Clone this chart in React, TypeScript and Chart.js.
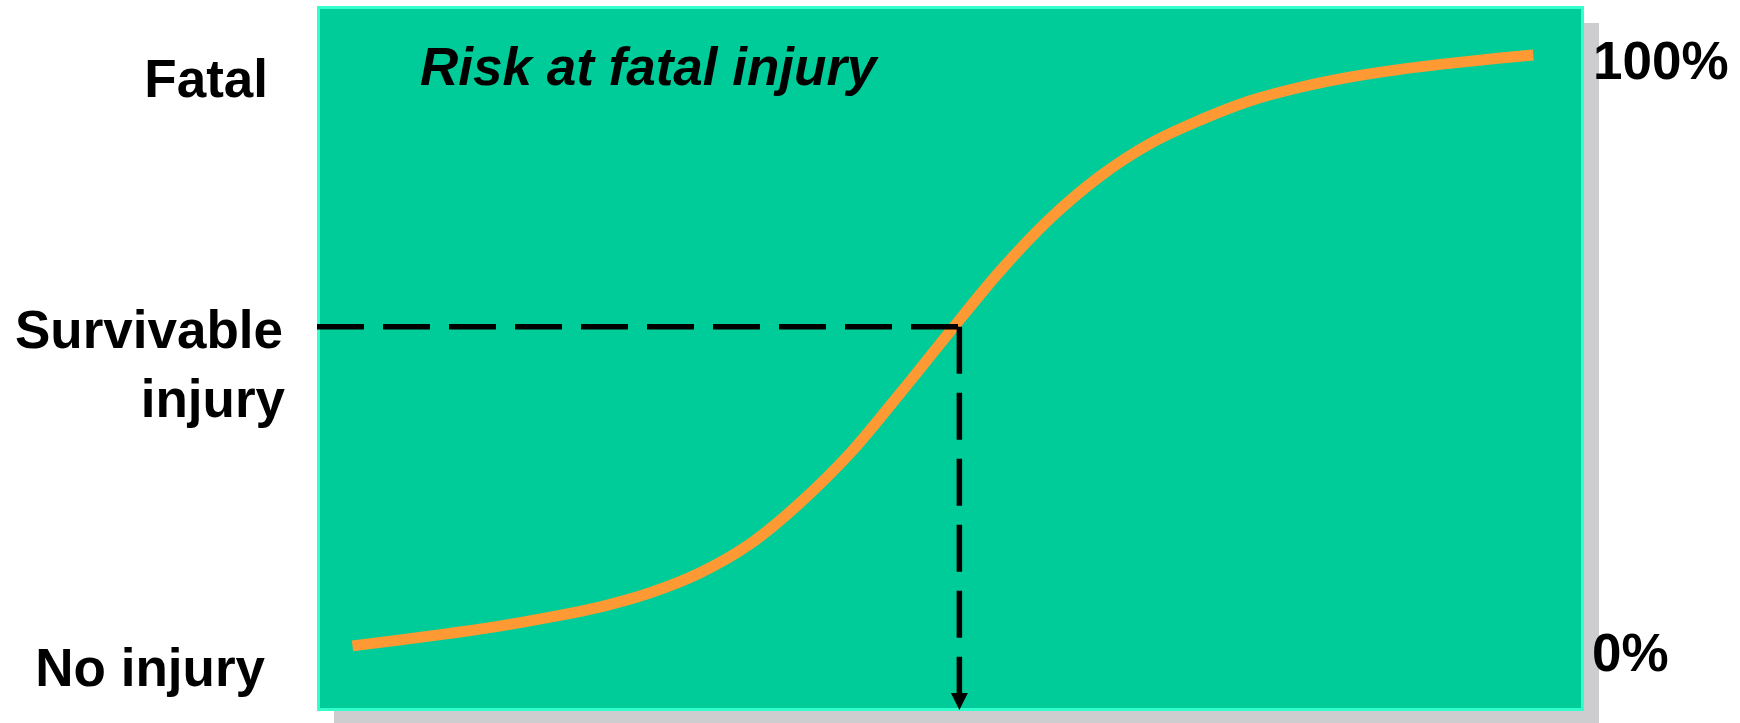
import React, { useEffect, useRef } from 'react';
import { Chart, registerables } from 'chart.js';

Chart.register(...registerables);

// Curve: impact severity (x, 0-100) vs risk of fatal injury (y, %)
const curveX = [2.8, 6.6, 10.5, 14.4, 18.4, 22.3, 26.3, 30.2, 34.2, 38.1, 42.1, 46.0, 50.0, 53.9, 57.9, 61.8, 65.7, 69.7, 73.6, 77.6, 81.5, 85.5, 89.4, 93.4, 96.0];
const curveY = [0.9, 1.9, 3.0, 4.2, 5.7, 7.4, 9.8, 13.1, 18.0, 24.8, 33.2, 43.1, 53.6, 63.6, 72.5, 79.5, 84.9, 88.9, 92.1, 94.4, 96.1, 97.4, 98.4, 99.3, 99.8];

// Survivability threshold marker
const thresholdX = 50.7;
const thresholdY = 54.3;

const leftLabels = ['Fatal', 'Survivable', 'injury', 'No injury'];
const rightLabels = ['100%', '0%'];
const title = 'Risk at fatal injury';

const FONT = '"Liberation Sans", Arial, Helvetica, sans-serif';

const decor = {
  id: 'decor',
  beforeDatasetsDraw(chart: any) {
    const { ctx, chartArea: a } = chart;
    const w = a.right - a.left;
    const h = a.bottom - a.top;
    ctx.save();
    ctx.fillStyle = '#CDCDCF';
    ctx.fillRect(a.left + 17, a.top + 17, w - 2, chart.height - a.top - 17);
    ctx.fillStyle = '#00CC99';
    ctx.fillRect(a.left, a.top, w, h);
    ctx.strokeStyle = '#33FFCC';
    ctx.lineWidth = 3;
    ctx.strokeRect(a.left + 1.5, a.top + 1.5, w - 3, h - 3);
    ctx.restore();
  },
  afterDatasetsDraw(chart: any) {
    const { ctx, chartArea: a, scales } = chart;
    const x = scales.x.getPixelForValue(thresholdX);
    const tip = a.bottom - 1;
    ctx.save();
    ctx.fillStyle = '#000000';
    ctx.beginPath();
    ctx.moveTo(x - 8.5, tip - 17);
    ctx.lineTo(x + 8.5, tip - 17);
    ctx.lineTo(x, tip);
    ctx.closePath();
    ctx.fill();
    ctx.restore();
  },
  afterDraw(chart: any) {
    const { ctx, chartArea: a } = chart;
    ctx.save();
    ctx.fillStyle = '#000000';
    ctx.textBaseline = 'alphabetic';
    ctx.font = `bold 53px ${FONT}`;
    ctx.textAlign = 'right';
    ctx.fillText(leftLabels[0], a.left - 49, a.top + 91);
    ctx.fillText(leftLabels[1], a.left - 34, a.top + 342);
    ctx.fillText(leftLabels[2], a.left - 32, a.top + 411);
    ctx.fillText(leftLabels[3], a.left - 52, a.top + 680);
    ctx.textAlign = 'left';
    ctx.fillText(rightLabels[0], a.right + 9, a.top + 73);
    ctx.fillText(rightLabels[1], a.right + 8, a.top + 665);
    ctx.font = `italic bold 53px ${FONT}`;
    ctx.fillText(title, a.left + 103, a.top + 79);
    ctx.restore();
  },
};

export default function App() {
  const ref = useRef<HTMLCanvasElement | null>(null);
  useEffect(() => {
    if (!ref.current) return;
    const chart = new Chart(ref.current, {
      type: 'line',
      data: {
        datasets: [
          {
            label: 'threshold-h',
            data: [
              { x: 0, y: thresholdY },
              { x: thresholdX, y: thresholdY },
            ],
            borderColor: '#000000',
            borderWidth: 5.5,
            borderDash: [47, 19],
            borderCapStyle: 'butt',
            pointRadius: 0,
            tension: 0,
            order: 0,
          },
          {
            label: 'threshold-v',
            data: [
              { x: thresholdX, y: thresholdY },
              { x: thresholdX, y: -8 },
            ],
            borderColor: '#000000',
            borderWidth: 5.5,
            borderDash: [47, 19],
            borderCapStyle: 'butt',
            pointRadius: 0,
            tension: 0,
            order: 0,
          },
          {
            label: 'Risk at fatal injury',
            data: curveX.map((x, i) => ({ x, y: curveY[i] })),
            borderColor: '#FF9933',
            borderWidth: 11,
            borderCapStyle: 'butt',
            borderJoinStyle: 'round',
            pointRadius: 0,
            cubicInterpolationMode: 'monotone',
            order: 1,
          },
        ],
      },
      options: {
        animation: false,
        responsive: false,
        devicePixelRatio: 1,
        layout: { padding: { left: 317, top: 6, right: 156, bottom: 12 } },
        plugins: { legend: { display: false }, tooltip: { enabled: false }, title: { display: false } },
        scales: {
          x: { type: 'linear', min: 0, max: 100, display: false },
          y: { type: 'linear', min: -10, max: 108, display: false },
        },
      },
      plugins: [decor],
    } as any);
    return () => chart.destroy();
  }, []);
  return (
    <div style={{ position: 'absolute', left: 0, top: 0, width: 1740, height: 723, background: '#ffffff' }}>
      <canvas ref={ref} width={1740} height={723} style={{ display: 'block', width: 1740, height: 723 }} />
    </div>
  );
}
